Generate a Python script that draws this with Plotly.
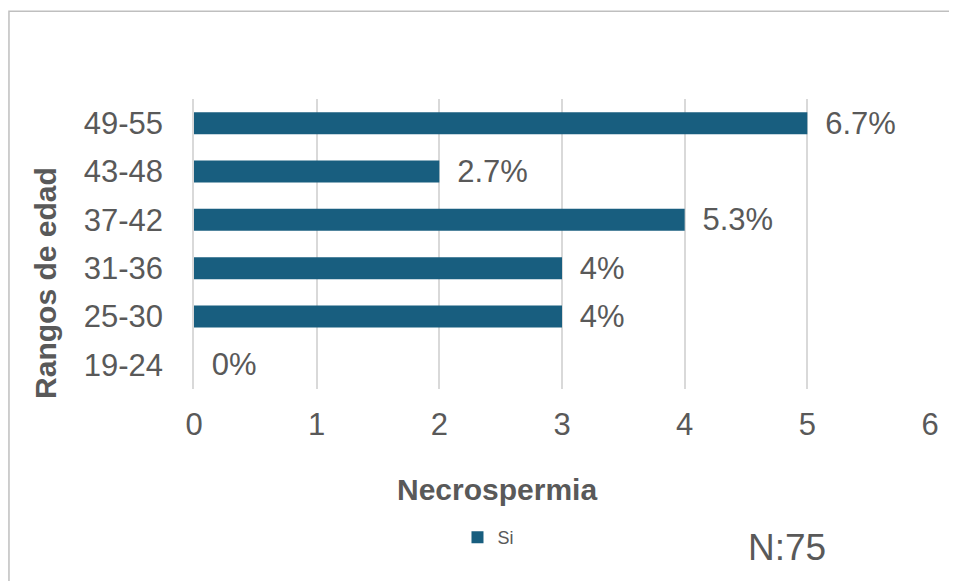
import plotly.graph_objects as go

categorias = ["19-24", "25-30", "31-36", "37-42", "43-48", "49-55"]
valores = [0, 3, 3, 4, 2, 5]
etiquetas = ["0%", "4%", "4%", "5.3%", "2.7%", "6.7%"]
serie = "Si"
x_ticks = [0, 1, 2, 3, 4, 5, 6]

color_barra = "#185E7F"
gris = "#595959"
fuente = "Liberation Sans, Arial, sans-serif"

fig = go.Figure()
fig.add_trace(go.Bar(
    y=categorias, x=valores, orientation="h", name=serie,
    marker=dict(color=color_barra, line=dict(width=0)),
    text=etiquetas, texttemplate="\u00a0\u2009%{text}", textposition="outside",
    cliponaxis=False, constraintext="none",
    textfont=dict(size=31, color=gris, family=fuente),
))

fig.update_layout(
    width=957, height=581,
    margin=dict(l=186, r=35, t=91, b=200),
    plot_bgcolor="white", paper_bgcolor="white",
    font=dict(family=fuente, color=gris),
    bargap=0.545,
    showlegend=True,
    legend=dict(orientation="h", x=0.358, y=-0.512, xanchor="left", yanchor="middle",
                font=dict(size=18, color=gris, family=fuente), itemwidth=30),
    xaxis=dict(range=[0, 6], tickvals=x_ticks, showgrid=True, gridcolor="#D9D9D9",
               gridwidth=1.5, zeroline=False, showline=False,
               tickfont=dict(size=31, color=gris), ticks="outside", ticklen=8,
               tickcolor="rgba(0,0,0,0)"),
    yaxis=dict(categoryorder="array", categoryarray=categorias, showgrid=False,
               showline=True, linecolor="#D9D9D9", linewidth=1.5,
               tickfont=dict(size=31, color=gris), ticks="outside", ticklen=23,
               tickcolor="rgba(0,0,0,0)"),
    annotations=[
        dict(text="<b>Necrospermia</b>", xref="paper", yref="paper", x=0.412, y=-0.345,
             xanchor="center", yanchor="middle",
             showarrow=False, font=dict(size=30, color=gris, family=fuente)),
        dict(text="<b>Rangos de edad</b>", xref="paper", yref="paper", x=-0.201, y=0.366,
             xanchor="center", yanchor="middle",
             textangle=-90, showarrow=False, font=dict(size=30, color=gris, family=fuente)),
        dict(text="N:75", xref="paper", yref="paper", x=0.806, y=-0.548,
             xanchor="center", yanchor="middle",
             showarrow=False, font=dict(size=37, color=gris, family=fuente)),
    ],
    shapes=[dict(type="rect", xref="paper", yref="paper", x0=-0.2514, x1=1.1, y0=-0.8, y1=1.303,
                 line=dict(color="#BFBFBF", width=1.5), fillcolor="rgba(0,0,0,0)", layer="below")],
)

fig.write_html("out.html")
